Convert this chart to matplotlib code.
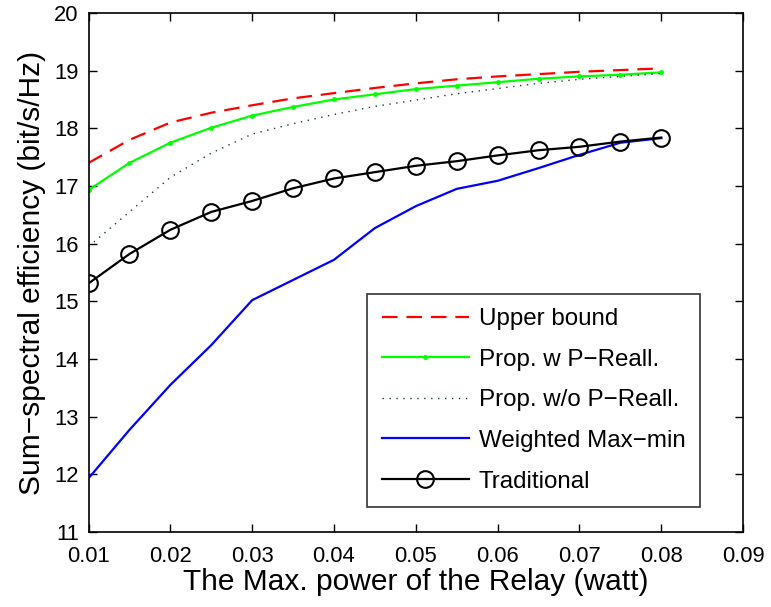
import numpy as np
import matplotlib
matplotlib.use("Agg")
import matplotlib.pyplot as plt

plt.rcParams["font.family"] = ["Liberation Sans", "DejaVu Sans"]

# relay max power (watt)
power = [0.010, 0.015, 0.020, 0.025, 0.030, 0.035, 0.040, 0.045,
         0.050, 0.055, 0.060, 0.065, 0.070, 0.075, 0.080]

upper_bound = [17.40, 17.80, 18.10, 18.27, 18.40, 18.52, 18.61, 18.70,
               18.78, 18.85, 18.90, 18.94, 18.98, 19.01, 19.04]
prop_w = [16.93, 17.40, 17.75, 18.01, 18.22, 18.37, 18.50, 18.59,
          18.68, 18.74, 18.80, 18.86, 18.90, 18.93, 18.97]
prop_wo = [15.95, 16.55, 17.15, 17.57, 17.90, 18.08, 18.24, 18.38,
           18.49, 18.60, 18.69, 18.78, 18.85, 18.90, 18.95]
weighted_maxmin = [11.93, 12.77, 13.55, 14.24, 15.02, 15.37, 15.72, 16.27,
                   16.65, 16.95, 17.09, 17.31, 17.54, 17.75, 17.83]
traditional = [15.31, 15.82, 16.24, 16.55, 16.74, 16.96, 17.13, 17.24,
               17.35, 17.43, 17.53, 17.62, 17.68, 17.77, 17.84]

xticks = [0.01, 0.02, 0.03, 0.04, 0.05, 0.06, 0.07, 0.08, 0.09]
yticks = list(range(11, 21))

fig = plt.figure(figsize=(7.71, 6.07), dpi=100)
ax = fig.add_axes([0.1148, 0.1236, 0.849, 0.855])

ax.plot(power, upper_bound, color="#ff0000", linestyle=(0, (7, 4)),
        linewidth=1.6, label="Upper bound")
ax.plot(power, prop_w, color="#00ff00", marker=".", markersize=5,
        linewidth=1.6, label="Prop. w P\u2212Reall.")
ax.plot(power, prop_wo, color="#1a3a3a", linestyle=(0, (1, 4)),
        linewidth=1.0, label="Prop. w/o P\u2212Reall.")
ax.plot(power, weighted_maxmin, color="#0000ff", linewidth=1.6,
        label="Weighted Max\u2212min")
ax.plot(power, traditional, color="k", marker="o", markersize=12,
        markerfacecolor="none", markeredgewidth=1.5, linewidth=1.6,
        label="Traditional")

ax.set_xlim(0.01, 0.09)
ax.set_ylim(11, 20)
ax.set_xticks(xticks)
ax.set_xticklabels([f"{v:.2f}" for v in xticks])
ax.set_yticks(yticks)
ax.tick_params(direction="in", top=True, right=True, labelsize=15.8,
               length=6, width=1)
ax.tick_params(axis="x", pad=10)
ax.tick_params(axis="y", pad=7)
for s in ax.spines.values():
    s.set_linewidth(1.2)

ax.set_xlabel("The Max. power of the Relay (watt)", fontsize=21.5,
              labelpad=1)
ax.set_ylabel("Sum\u2212spectral efficiency (bit/s/Hz)", fontsize=21.5,
              labelpad=6)

leg = ax.legend(loc="lower right", bbox_to_anchor=(0.934, 0.048),
                fontsize=17.4, frameon=True, fancybox=False,
                edgecolor="k", handlelength=3.6, labelspacing=0.77,
                borderpad=0.6, handletextpad=0.4, borderaxespad=0)
leg.get_frame().set_linewidth(1.2)

fig.savefig("out.png", dpi=100)
